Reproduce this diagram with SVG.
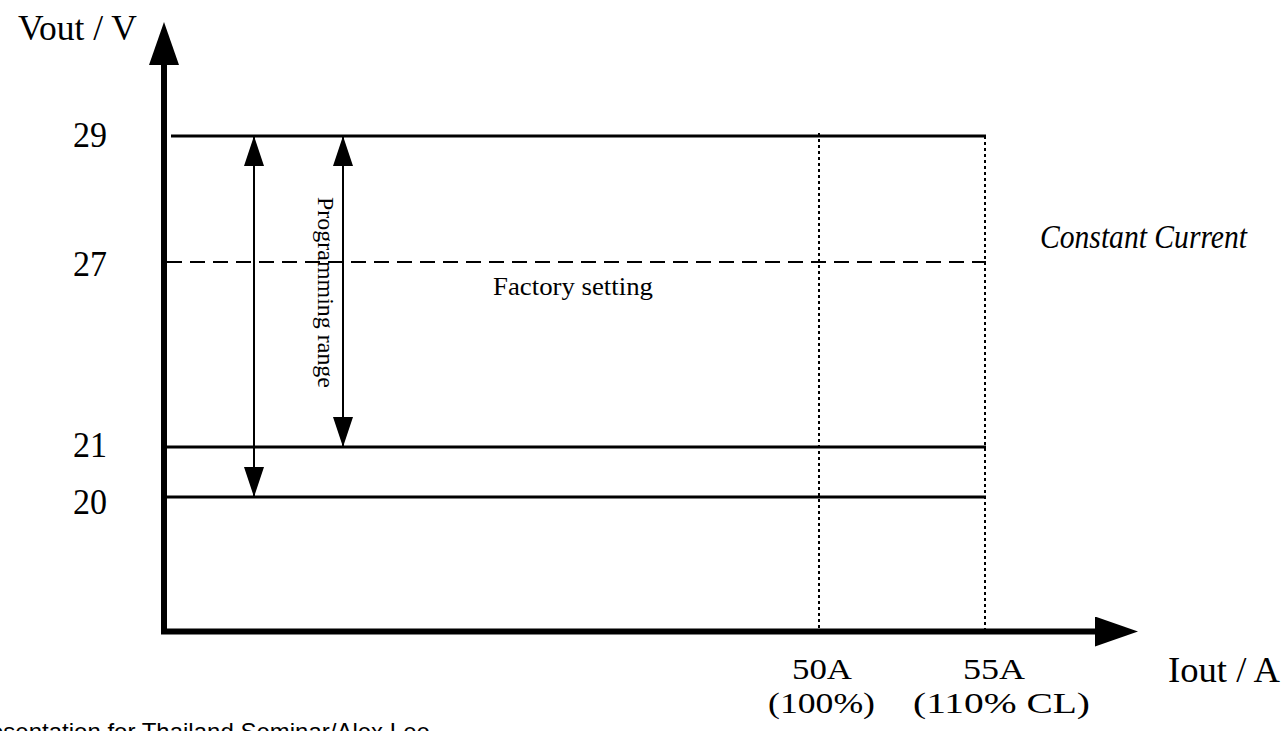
<svg xmlns="http://www.w3.org/2000/svg" width="1285" height="731" viewBox="0 0 1285 731">
  <style>
    .t { font-family: "Liberation Serif", "Times New Roman", serif; fill: #000; }
    .axis { stroke: #000; stroke-width: 6; fill: none; }
    .lvl { stroke: #000; stroke-width: 3; fill: none; }
    .dash { stroke: #000; stroke-width: 2; stroke-dasharray: 15 8; fill: none; }
    .dot { stroke: #000; stroke-width: 2; stroke-dasharray: 3 3; fill: none; }
    .rng { stroke: #000; stroke-width: 2; fill: none; marker-start: url(#ah); marker-end: url(#ah); }
  </style>
  <defs>
    <marker id="axh" markerUnits="userSpaceOnUse" markerWidth="44" markerHeight="30" refX="0" refY="15" orient="auto" viewBox="0 0 44 30">
      <path d="M0,0 L43,15 L0,30 Z" fill="#000"/>
    </marker>
    <marker id="ah" markerUnits="userSpaceOnUse" markerWidth="30" markerHeight="20" refX="30" refY="10" orient="auto-start-reverse" viewBox="0 0 30 20">
      <path d="M0,0 L30,10 L0,20 Z" fill="#000"/>
    </marker>
  </defs>
  <rect width="1285" height="731" fill="#fff"/>

  <g id="connectors">
    <line id="y-axis" class="axis" x1="164" y1="634" x2="164" y2="65" marker-end="url(#axh)"/>
    <line id="x-axis" class="axis" x1="161" y1="631.5" x2="1095" y2="631.5" marker-end="url(#axh)"/>
    <line id="lvl29" class="lvl" x1="171" y1="136" x2="986" y2="136"/>
    <line id="lvl27" class="dash" x1="167" y1="262" x2="986" y2="262"/>
    <line id="lvl21" class="lvl" x1="167" y1="447" x2="986" y2="447"/>
    <line id="lvl20" class="lvl" x1="167" y1="497" x2="986" y2="497"/>
    <line id="v50" class="dot" x1="819" y1="133" x2="819" y2="629"/>
    <line id="v55" class="dot" x1="985" y1="136" x2="985" y2="629"/>
    <line id="range-outer" class="rng" x1="254" y1="136" x2="254" y2="497"/>
    <line id="range-inner" class="rng" x1="343" y1="136" x2="343" y2="447"/>
  </g>

  <g id="y-labels" class="t" font-size="35">
    <text x="18" y="40" font-size="36" textLength="119" lengthAdjust="spacingAndGlyphs">Vout / V</text>
    <text x="73" y="147" textLength="34" lengthAdjust="spacingAndGlyphs">29</text>
    <text x="73" y="276" textLength="34" lengthAdjust="spacingAndGlyphs">27</text>
    <text x="73" y="457" textLength="34" lengthAdjust="spacingAndGlyphs">21</text>
    <text x="73" y="514" textLength="34" lengthAdjust="spacingAndGlyphs">20</text>
  </g>

  <g id="factory-setting" class="t">
    <text x="493" y="295" font-size="26" textLength="160" lengthAdjust="spacingAndGlyphs">Factory setting</text>
  </g>

  <g id="programming-range" class="t">
    <text transform="translate(318,197) rotate(90)" x="0" y="0" font-size="23" textLength="191" lengthAdjust="spacingAndGlyphs">Programming range</text>
  </g>

  <g id="constant-current" class="t">
    <text x="1040" y="248" font-size="34" font-style="italic" textLength="207" lengthAdjust="spacingAndGlyphs">Constant Current</text>
  </g>

  <g id="x-labels" class="t" font-size="30">
    <text x="792" y="679" textLength="60" lengthAdjust="spacingAndGlyphs">50A</text>
    <text x="768" y="713" textLength="107" lengthAdjust="spacingAndGlyphs">(100%)</text>
    <text x="963" y="679" textLength="62" lengthAdjust="spacingAndGlyphs">55A</text>
    <text x="913" y="713" textLength="177" lengthAdjust="spacingAndGlyphs">(110% CL)</text>
    <text x="1168" y="682" font-size="36" textLength="112" lengthAdjust="spacingAndGlyphs">Iout / A</text>
  </g>

  <g id="footer">
    <text x="-34" y="740" font-family="'Liberation Sans', Arial, sans-serif" font-size="24" fill="#000">Presentation for Thailand Seminar/Alex Lee</text>
  </g>
</svg>
